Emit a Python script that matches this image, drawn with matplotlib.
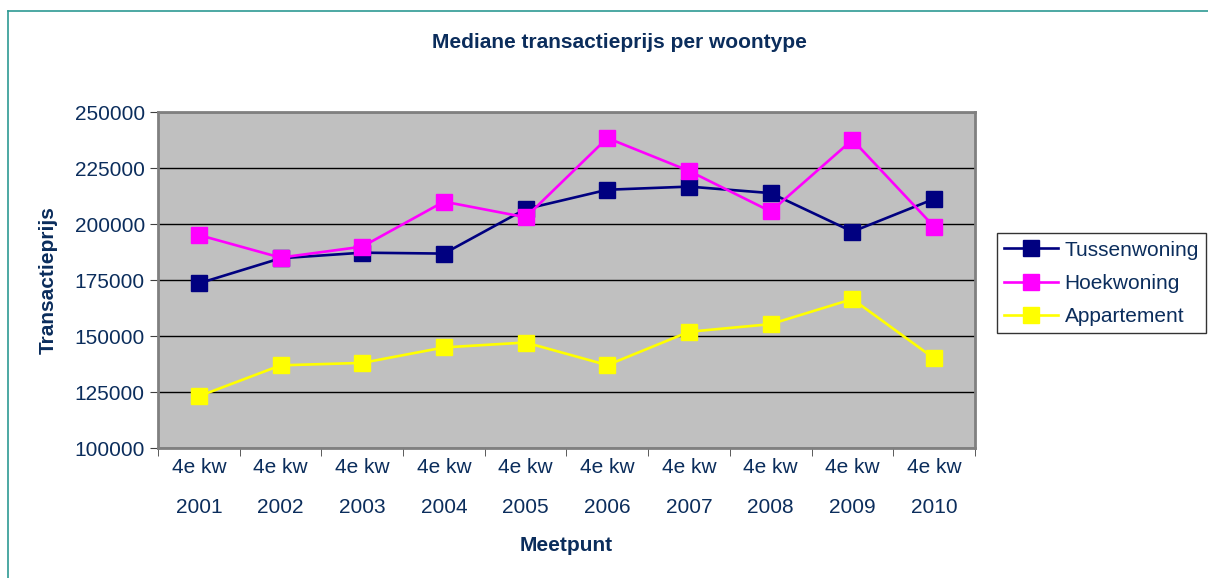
import matplotlib
matplotlib.use("Agg")
import matplotlib.pyplot as plt
from matplotlib.lines import Line2D

plt.rcParams['font.family'] = ['Liberation Sans', 'DejaVu Sans']

# gegevens
jaren = ["2001", "2002", "2003", "2004", "2005", "2006", "2007", "2008", "2009", "2010"]
labels = ["4e kw\n" + j for j in jaren]
tussenwoning = [173500, 184700, 187200, 186800, 206700, 215300, 216700, 213800, 196600, 211200]
hoekwoning = [195100, 185000, 189900, 210000, 203000, 238400, 223700, 205600, 237600, 198800]
appartement = [123100, 136900, 138000, 144900, 147100, 137000, 151900, 155300, 166500, 140000]

tekst = '#0B2D5C'
fs = 15

fig = plt.figure(figsize=(12.08, 5.78), dpi=100)
ax = fig.add_axes([0.1308, 0.2249, 0.6763, 0.5813])
ax.set_facecolor('#C0C0C0')

x = list(range(len(jaren)))
series = [
    ("Tussenwoning", tussenwoning, '#000080'),
    ("Hoekwoning", hoekwoning, '#FF00FF'),
    ("Appartement", appartement, '#FFFF00'),
]
for naam, vals, kleur in series:
    ax.plot(x, vals, color=kleur, lw=1.9, marker='s', ms=11,
            mfc=kleur, mec=kleur, label=naam, zorder=3)

ax.set_xlim(-0.5, len(jaren) - 0.5)
ax.set_ylim(100000, 250000)
ax.set_yticks(range(100000, 250001, 25000))
ax.yaxis.grid(True, color='black', lw=1)
ax.set_axisbelow(True)

ax.set_xticks(x)
ax.set_xticklabels(labels)
ax.set_xticks([i - 0.5 for i in range(len(jaren) + 1)], minor=True)
ax.tick_params(axis='x', which='major', length=0, pad=7, labelsize=fs, labelcolor=tekst)
ax.tick_params(axis='x', which='minor', length=6, direction='out', color='#404040')
ax.tick_params(axis='y', length=6, direction='out', labelsize=fs, labelcolor=tekst, color='#404040')
for lbl in ax.get_xticklabels():
    lbl.set_linespacing(2.4)

for s in ax.spines.values():
    s.set_color('#808080')
    s.set_linewidth(2)

ax.set_ylabel("Transactieprijs", fontsize=fs, fontweight='bold', color=tekst, labelpad=12)
ax.set_xlabel("Meetpunt", fontsize=fs, fontweight='bold', color=tekst, labelpad=14)
fig.text(0.5125, 0.927, "Mediane transactieprijs per woontype", ha='center', va='center',
         fontsize=fs, fontweight='bold', color=tekst)

leg = ax.legend(loc='center left', bbox_to_anchor=(1.027, 0.49), frameon=True, fancybox=False,
                fontsize=fs, handlelength=2.6, borderpad=0.35, labelspacing=0.68,
                handletextpad=0.3, borderaxespad=0)
leg.get_frame().set_edgecolor('black')
leg.get_frame().set_linewidth(1)
for t in leg.get_texts():
    t.set_color(tekst)

# rand van de grafiek
fig.add_artist(Line2D([0.0066, 0.0066], [0, 0.981], color='#2E9A94', lw=1.2))
fig.add_artist(Line2D([0.0066, 1.0], [0.981, 0.981], color='#2E9A94', lw=1.2))

fig.savefig("out.png", dpi=100)
